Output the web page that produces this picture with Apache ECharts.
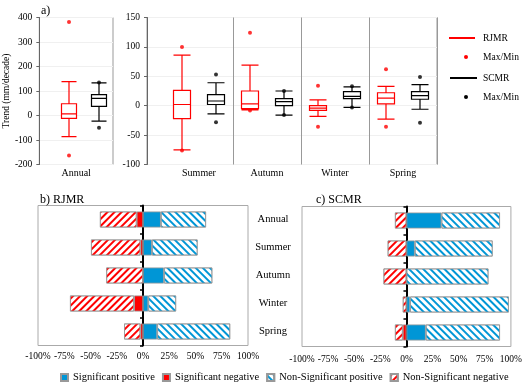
<!DOCTYPE html>
<html>
<head>
<meta charset="utf-8">
<script src="https://cdn.jsdelivr.net/npm/echarts@6/dist/echarts.min.js"></script>
<style>
  html, body { margin: 0; padding: 0; background: #fff; }
  #main { width: 525px; height: 383px; }
</style>
</head>
<body>
<div id="main"></div>
<script>
// ---- data ----
const seasons = ['Summer', 'Autumn', 'Winter', 'Spring'];
// boxplot: [whisker low, Q1, median, Q3, whisker high]
const rjmrAnnualBox = [-86, -12, 7, 48, 138];
const scmrAnnualBox = [-23, 37, 70, 85, 133];
const rjmrAnnualMaxMin = [382, -163];
const scmrAnnualMaxMin = [135, -50];
const rjmrSeasonBox = [[-75, -22, 2, 26, 86], [-7, -5, 3, 25, 69], [-18, -8, -4, 0, 10], [-23, 3, 13, 22, 33]];
const scmrSeasonBox = [[-14, 2, 8, 19, 39], [-16, 0, 7, 12, 25], [-3, 12, 16, 24, 32], [-6, 11, 17, 24, 36]];
const rjmrSeasonMaxMin = [[100, -76], [124, -8], [34, -36], [62, -36]];
const scmrSeasonMaxMin = [[53, -28], [25, -16], [33, -3], [49, -29]];

// percentage of stations
const barCats = ['Annual', 'Summer', 'Autumn', 'Winter', 'Spring'];
const rjmrSigPos = [17, 8.5, 20, 5, 13.5];
const rjmrNsPos = [43, 43.5, 46, 26.5, 69.5];
const rjmrSigNeg = [6, 2.5, 0, 8.5, 2.5];
const rjmrNsNeg = [35, 47, 35, 61, 15.5];
const scmrSigPos = [33.5, 8, 0, 3.5, 18.5];
const scmrNsPos = [56, 74.5, 78.5, 94.5, 71];
const scmrSigNeg = [0, 0, 0, 0, 3.5];
const scmrNsNeg = [11, 18, 22, 3.5, 7.5];

const RED = '#ff0000';
const BLUE = '#0096d6';
const FONT = 'Liberation Serif';

const chart = echarts.init(document.getElementById('main'));

// boxes interleaved RJMR / SCMR
const annualBoxData = [
  { value: rjmrAnnualBox, itemStyle: { borderColor: RED } },
  { value: scmrAnnualBox, itemStyle: { borderColor: '#000' } }
];
const seasonBoxData = [];
seasons.forEach((s, i) => {
  seasonBoxData.push({ value: rjmrSeasonBox[i], itemStyle: { borderColor: RED } });
  seasonBoxData.push({ value: scmrSeasonBox[i], itemStyle: { borderColor: '#000' } });
});
const dots = (arr, idx) => arr.map(v => [idx, v]);
const rjmrSeasonDots = [];
const scmrSeasonDots = [];
seasons.forEach((s, i) => {
  rjmrSeasonDots.push(...dots(rjmrSeasonMaxMin[i], i * 2));
  scmrSeasonDots.push(...dots(scmrSeasonMaxMin[i], i * 2 + 1));
});

const hidden = { show: false };
const tickLbl = { fontFamily: FONT, fontSize: 9.5, color: '#000' };

const zeroToGap = arr => arr.map(v => (v === 0 ? '-' : v));
const neg = arr => arr.map(v => (v === 0 ? '-' : -v));

const stripes = (color, rot) => ({
  symbol: 'rect',
  symbolSize: 1,
  dashArrayX: [1, 0],
  dashArrayY: [2, 2.5],
  rotation: rot,
  color: color
});

function barSeries(sigPos, nsPos, sigNeg, nsNeg, xi, yi) {
  const common = { type: 'bar', stack: 'p' + xi, xAxisIndex: xi, yAxisIndex: yi, barWidth: 16, silent: true };
  const border = { borderColor: '#999', borderWidth: 0.8 };
  return [
    Object.assign({}, common, { name: 'Significant positive', data: zeroToGap(sigPos),
      itemStyle: Object.assign({ color: BLUE }, border) }),
    Object.assign({}, common, { name: 'Significant negative', data: neg(sigNeg),
      itemStyle: Object.assign({ color: RED }, border) }),
    Object.assign({}, common, { name: 'Non-Significant positive', data: zeroToGap(nsPos),
      itemStyle: Object.assign({ color: '#fff', decal: stripes(BLUE, Math.PI / 4) }, border) }),
    Object.assign({}, common, { name: 'Non-Significant negative', data: neg(nsNeg),
      itemStyle: Object.assign({ color: '#fff', decal: stripes(RED, -Math.PI / 4) }, border) })
  ];
}

const option = {
  animation: false,
  backgroundColor: '#fff',
  title: [
    { text: 'a)', left: 36, top: 0, textStyle: { fontFamily: FONT, fontSize: 12, fontWeight: 'normal', color: '#000' } },
    { text: 'b) RJMR', left: 35, top: 189, textStyle: { fontFamily: FONT, fontSize: 12, fontWeight: 'normal', color: '#000' } },
    { text: 'c) SCMR', left: 311, top: 189, textStyle: { fontFamily: FONT, fontSize: 12, fontWeight: 'normal', color: '#000' } }
  ],
  legend: {
    left: 60, top: 372, width: 470, padding: 0, itemWidth: 7, itemHeight: 7, itemGap: 7, icon: 'rect',
    textStyle: { fontFamily: FONT, fontSize: 10.5, color: '#000' },
    data: ['Significant positive', 'Significant negative', 'Non-Significant positive', 'Non-Significant negative']
  },
  grid: [
    { left: 38, right: 412, top: 17.5, bottom: 218.5, show: true, borderColor: '#999', borderWidth: 1 },
    { left: 54, right: 411, top: 17.5, bottom: 218.5 },
    { left: 147, right: 88, top: 17.5, bottom: 218.5, show: true, borderColor: '#999', borderWidth: 1 },
    { left: 165, right: 88, top: 17.5, bottom: 218.5 },
    { left: 38, right: 277, top: 205.5, bottom: 37.5, show: true, borderColor: '#aaa', borderWidth: 1 },
    { left: 302, right: 13, top: 206.5, bottom: 36.5, show: true, borderColor: '#aaa', borderWidth: 1 }
  ],
  xAxis: [
    { gridIndex: 0, type: 'category', data: ['Annual'], position: 'bottom',
      axisLine: { show: false, onZero: false }, axisTick: hidden,
      axisLabel: { fontFamily: FONT, fontSize: 10, color: '#000', margin: 4 } },
    { gridIndex: 1, type: 'category', data: ['Annual RJMR', 'Annual SCMR'], show: false },
    { gridIndex: 2, type: 'value', show: false },
    { gridIndex: 3, type: 'category', show: false, position: 'bottom',
      data: seasons.flatMap(s => [s + ' RJMR', s + ' SCMR']) },
    { gridIndex: 3, type: 'category', data: seasons, position: 'bottom',
      axisLine: { show: false, onZero: false }, axisTick: hidden,
      axisLabel: { fontFamily: FONT, fontSize: 10, color: '#000', margin: 4 },
      splitLine: { show: true, interval: (i) => i > 0, lineStyle: { color: '#999', width: 1 } } },
    { gridIndex: 4, type: 'value', min: -100, max: 100, interval: 25,
      axisLine: { show: false }, axisTick: hidden, splitLine: hidden,
      axisLabel: Object.assign({ formatter: '{value}%', margin: 6 }, tickLbl) },
    { gridIndex: 5, type: 'value', min: -100, max: 100, interval: 25,
      axisLine: { show: false }, axisTick: hidden, splitLine: hidden,
      axisLabel: Object.assign({ formatter: '{value}%', margin: 8 }, tickLbl) }
  ],
  yAxis: [
    { gridIndex: 0, type: 'value', min: -200, max: 400, interval: 100,
      name: 'Trend (mm/decade)', nameLocation: 'middle', nameGap: 25,
      nameTextStyle: { fontFamily: FONT, fontSize: 9.5, color: '#000' },
      axisLine: { show: true, onZero: false, lineStyle: { color: '#666', width: 1 } },
      axisTick: { show: true, length: 3, lineStyle: { color: '#666' } },
      axisLabel: Object.assign({ margin: 7 }, tickLbl),
      splitLine: { show: true, lineStyle: { color: '#f0f0f0' } } },
    { gridIndex: 1, type: 'value', min: -200, max: 400, show: false },
    { gridIndex: 2, type: 'value', min: -100, max: 150, interval: 50,
      axisLine: { show: true, onZero: false, lineStyle: { color: '#666', width: 1 } },
      axisTick: { show: true, length: 3, lineStyle: { color: '#666' } },
      axisLabel: Object.assign({ margin: 7 }, tickLbl),
      splitLine: { show: true, lineStyle: { color: '#f0f0f0' } } },
    { gridIndex: 3, type: 'value', min: -100, max: 150, show: false },
    { gridIndex: 4, type: 'category', inverse: true, data: barCats,
      axisLine: { show: true, onZero: true, lineStyle: { color: '#000', width: 2 } },
      axisTick: { show: true, length: 3, lineStyle: { color: '#000', width: 1.5 } },
      axisLabel: hidden },
    { gridIndex: 5, type: 'category', inverse: true, data: barCats,
      axisLine: { show: true, onZero: true, lineStyle: { color: '#000', width: 2 } },
      axisTick: { show: true, length: 3, lineStyle: { color: '#000', width: 1.5 } },
      axisLabel: hidden },
    { gridIndex: 4, type: 'category', inverse: true, data: barCats, position: 'right',
      axisLine: { show: false, onZero: false }, axisTick: hidden,
      axisLabel: { fontFamily: FONT, fontSize: 10.5, color: '#000', margin: 25, align: 'center' } }
  ],
  graphic: [
    { type: 'line', shape: { x1: 449, y1: 38, x2: 475, y2: 38 }, style: { stroke: RED, lineWidth: 2 } },
    { type: 'text', left: 483, top: 33, style: { text: 'RJMR', font: '9.5px "Liberation Serif"', fill: '#000' } },
    { type: 'circle', shape: { cx: 466, cy: 57, r: 2 }, style: { fill: RED } },
    { type: 'text', left: 483, top: 52, style: { text: 'Max/Min', font: '9.5px "Liberation Serif"', fill: '#000' } },
    { type: 'line', shape: { x1: 450, y1: 78, x2: 477, y2: 78 }, style: { stroke: '#000', lineWidth: 2 } },
    { type: 'text', left: 483, top: 73, style: { text: 'SCMR', font: '9.5px "Liberation Serif"', fill: '#000' } },
    { type: 'circle', shape: { cx: 466, cy: 97, r: 2 }, style: { fill: '#000' } },
    { type: 'text', left: 483, top: 92, style: { text: 'Max/Min', font: '9.5px "Liberation Serif"', fill: '#000' } }
  ],
  series: [
    { type: 'boxplot', xAxisIndex: 1, yAxisIndex: 1, boxWidth: [15, 15], silent: true,
      itemStyle: { color: '#fff', borderWidth: 1.2 }, data: annualBoxData },
    { type: 'scatter', xAxisIndex: 1, yAxisIndex: 1, symbolSize: 4, silent: true,
      itemStyle: { color: RED }, data: dots(rjmrAnnualMaxMin, 0) },
    { type: 'scatter', xAxisIndex: 1, yAxisIndex: 1, symbolSize: 4, silent: true,
      itemStyle: { color: '#000' }, data: dots(scmrAnnualMaxMin, 1) },
    { type: 'boxplot', xAxisIndex: 3, yAxisIndex: 3, boxWidth: [17, 17], silent: true,
      itemStyle: { color: '#fff', borderWidth: 1.2 }, data: seasonBoxData },
    { type: 'scatter', xAxisIndex: 3, yAxisIndex: 3, symbolSize: 4, silent: true,
      itemStyle: { color: RED }, data: rjmrSeasonDots },
    { type: 'scatter', xAxisIndex: 3, yAxisIndex: 3, symbolSize: 4, silent: true,
      itemStyle: { color: '#000' }, data: scmrSeasonDots },
    ...barSeries(rjmrSigPos, rjmrNsPos, rjmrSigNeg, rjmrNsNeg, 5, 4),
    ...barSeries(scmrSigPos, scmrNsPos, scmrSigNeg, scmrNsNeg, 6, 5)
  ]
};

chart.setOption(option);
</script>
</body>
</html>
